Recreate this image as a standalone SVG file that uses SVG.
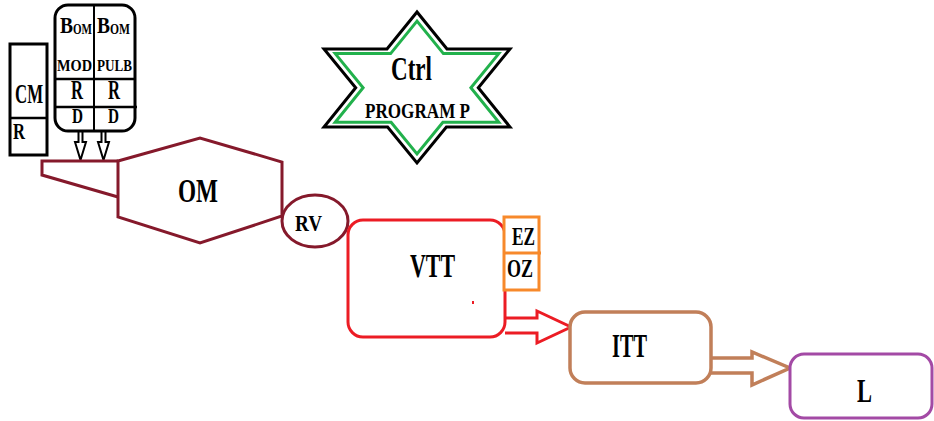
<svg xmlns="http://www.w3.org/2000/svg" width="934" height="421" viewBox="0 0 934 421">
<style>
text{font-family:"Liberation Serif","Times New Roman",serif;font-weight:bold;fill:#000}
.blk{fill:#fff;stroke:#000;stroke-width:3}
.om{fill:#fff;stroke:#85192b;stroke-width:3;stroke-linejoin:miter}
.red{fill:#fff;stroke:#ec1c24;stroke-width:3}
.org{fill:#fff;stroke:#f7892b;stroke-width:3}
.brn{fill:#fff;stroke:#c17f59;stroke-width:3.5}
.pur{fill:#fff;stroke:#a34aa5;stroke-width:3}
</style>
<rect width="934" height="421" fill="#fff"/>
<g id="connectors">
  <path d="M78.5,132 V142 H75 L80.5,160 L86,142 H82.5 V132" fill="#fff" stroke="#000" stroke-width="2"/>
  <path d="M101.5,132 V142 H98 L103.5,160 L109,142 H105.5 V132" fill="#fff" stroke="#000" stroke-width="2"/>
  <path d="M118,161 H42 V175 L118,197" class="om" fill="none"/>
  <path d="M505,318 H537 V311 L571,327 L537,343 V333 H505" class="red"/>
  <path d="M711,358 H752 V352 L790,368 L752,385 V373 H711" class="brn"/>
</g>
<g id="cm">
  <rect x="10" y="44" width="37" height="111" class="blk"/>
  <line x1="10" y1="118" x2="47" y2="118" stroke="#000" stroke-width="2.5"/>
  <text x="15" y="103" font-size="28" textLength="28" lengthAdjust="spacingAndGlyphs">CM</text>
  <text x="13" y="139" font-size="24" textLength="12" lengthAdjust="spacingAndGlyphs">R</text>
</g>
<g id="bom">
  <rect x="55" y="5" width="80" height="126" rx="13" class="blk"/>
  <line x1="94" y1="5" x2="94" y2="131" stroke="#000" stroke-width="2"/>
  <line x1="55" y1="79" x2="135" y2="79" stroke="#000" stroke-width="2.5"/>
  <line x1="55" y1="107" x2="137" y2="107" stroke="#000" stroke-width="2.5"/>
  <text x="60" y="33" font-size="23" textLength="13" lengthAdjust="spacingAndGlyphs">B</text>
  <text x="73" y="34" font-size="14" textLength="19" lengthAdjust="spacingAndGlyphs">OM</text>
  <text x="97" y="33" font-size="23" textLength="13" lengthAdjust="spacingAndGlyphs">B</text>
  <text x="110" y="34" font-size="14" textLength="20" lengthAdjust="spacingAndGlyphs">OM</text>
  <text x="57" y="71" font-size="17" textLength="35" lengthAdjust="spacingAndGlyphs">MOD</text>
  <text x="97" y="71" font-size="17" textLength="35" lengthAdjust="spacingAndGlyphs">PULB</text>
  <text x="71" y="99" font-size="27" textLength="12" lengthAdjust="spacingAndGlyphs">R</text>
  <text x="108" y="99" font-size="27" textLength="12" lengthAdjust="spacingAndGlyphs">R</text>
  <text x="72" y="123" font-size="22" textLength="11" lengthAdjust="spacingAndGlyphs">D</text>
  <text x="108" y="123" font-size="22" textLength="11" lengthAdjust="spacingAndGlyphs">D</text>
</g>
<g id="ctrl">
  <polygon points="417,12 387,49 324,49 355.7,87.8 324,127 387.6,127 417,163 446.4,127 510,127 478.3,87.8 510,49 447,49" fill="#fff" stroke="#000" stroke-width="3"/>
  <polygon points="417,21.1 390.6,53.6 335.2,53.6 363.1,87.8 335.2,122.3 391.1,122.3 417,153.9 442.9,122.3 498.8,122.3 470.9,87.8 498.8,53.6 443.4,53.6" fill="none" stroke="#22b14c" stroke-width="3"/>
  <text x="391" y="80" font-size="33" textLength="41" lengthAdjust="spacingAndGlyphs">Ctrl</text>
  <text x="365" y="118" font-size="22" textLength="105" lengthAdjust="spacingAndGlyphs">PROGRAM P</text>
</g>
<g id="om">
  <polygon points="118,161 200,138 282,162 282,216 200,243 118,217" class="om"/>
  <text x="178" y="202" font-size="33" textLength="40" lengthAdjust="spacingAndGlyphs">OM</text>
</g>
<g id="rv">
  <ellipse cx="315" cy="221" rx="33" ry="26" class="om"/>
  <text x="295" y="231" font-size="23" textLength="27" lengthAdjust="spacingAndGlyphs">RV</text>
</g>
<g id="vtt">
  <rect x="348" y="220" width="157" height="117" rx="15" class="red"/>
  <rect x="472" y="301" width="2" height="3" fill="#ec1c24"/>
  <text x="410" y="277" font-size="33" textLength="45" lengthAdjust="spacingAndGlyphs">VTT</text>
</g>
<g id="ezoz">
  <rect x="504" y="217" width="35" height="73" class="org"/>
  <line x1="504" y1="253" x2="541" y2="253" stroke="#f7892b" stroke-width="3"/>
  <text x="512" y="245" font-size="25" textLength="23" lengthAdjust="spacingAndGlyphs">EZ</text>
  <text x="507" y="277" font-size="25" textLength="26" lengthAdjust="spacingAndGlyphs">OZ</text>
</g>
<g id="itt">
  <rect x="570" y="312" width="141" height="71" rx="15" class="brn"/>
  <text x="612" y="357" font-size="33" textLength="35" lengthAdjust="spacingAndGlyphs">ITT</text>
</g>
<g id="l">
  <rect x="790" y="354" width="142" height="64" rx="14" class="pur"/>
  <text x="857" y="402" font-size="34" textLength="15" lengthAdjust="spacingAndGlyphs">L</text>
</g>
</svg>
